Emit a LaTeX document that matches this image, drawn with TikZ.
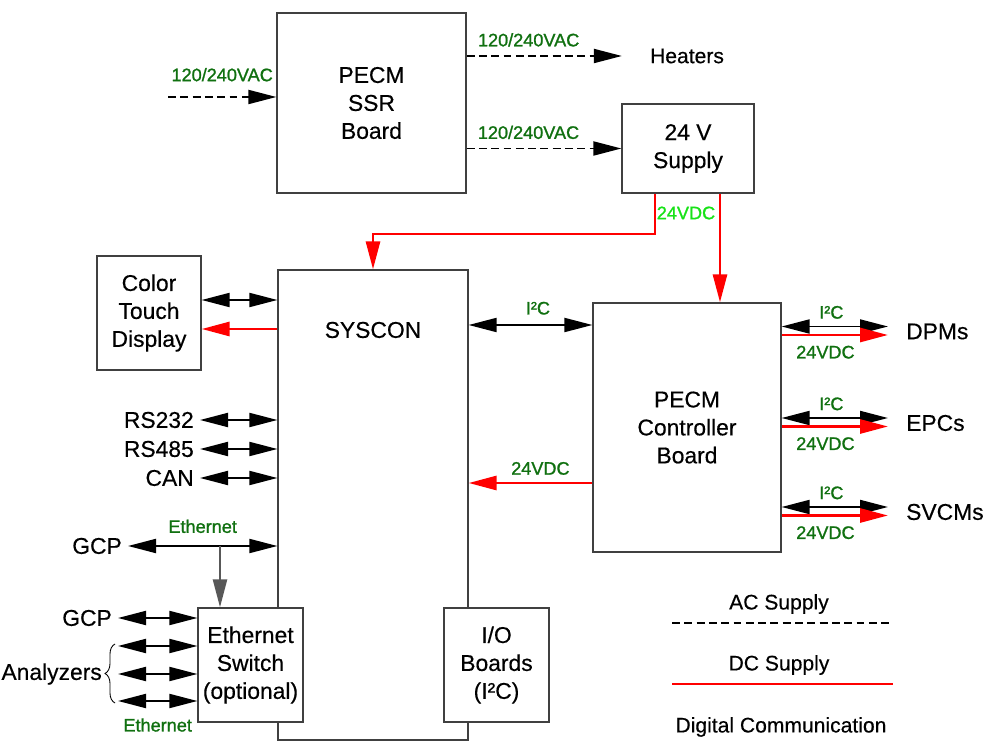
\documentclass[tikz,border=0pt]{standalone}
\usepackage{fontspec}
\setmainfont{Liberation Sans}[FakeBold=0.4]
\newfontfamily\tagfont{Liberation Sans}[FakeBold=1.2]
\usetikzlibrary{arrows.meta,decorations.pathreplacing}

\definecolor{dkgreen}{RGB}{16,112,16}
\definecolor{ltgreen}{RGB}{24,226,24}
\definecolor{boxgray}{RGB}{64,64,64}
\definecolor{tapgray}{RGB}{88,88,88}

\begin{document}
\begin{tikzpicture}[font=\fontsize{13}{15.9}\selectfont,
    >={Triangle[length=0.56cm, width=0.28cm]},
    block/.style={draw=boxgray, line width=0.7pt, fill=white, align=center, inner sep=0pt},
    tag/.style={text=dkgreen, font=\tagfont\fontsize{10.3}{12}\selectfont},
    acline/.style={line width=1.1pt, dash pattern=on 4.5pt off 2.5pt},
    dcline/.style={red, line width=1.6pt},
    bus/.style={line width=1.1pt, <->},
    legtext/.style={font=\fontsize{12}{14}\selectfont}]

        \useasboundingbox (0,0) rectangle (19.74,14.86);

        % --- Blocchi principali ---
        \node[block, minimum width=3.78cm, minimum height=3.6cm] (ssr) at (7.43,12.8) {PECM\\SSR\\Board};
        \node[block, minimum width=2.64cm, minimum height=1.78cm] (supply) at (13.76,11.89) {24 V\\Supply};
        \node[legtext] (heaters) at (13.74,13.74) {Heaters};

        \node[block, minimum width=3.8cm, minimum height=9.4cm] (syscon) at (7.46,4.76) {};
        \node (sysconlbl) at (7.46,8.26) {SYSCON};

        \node[block, minimum width=2.08cm, minimum height=2.28cm] (ctd) at (2.98,8.6) {Color\\Touch\\Display};
        \node[block, minimum width=3.76cm, minimum height=4.98cm] (ctrl) at (13.74,6.31) {PECM\\Controller\\Board};

        % sopra il bordo di SYSCON
        \node[block, minimum width=2.1cm, minimum height=2.28cm] (ethsw) at (5.01,1.56) {Ethernet\\Switch\\(optional)};
        \node[block, minimum width=2.1cm, minimum height=2.28cm] (io) at (9.93,1.56) {I/O\\Boards\\(I²C)};

        % --- Alimentazione AC ---
        \coordinate (acin) at (3.36,12.92);
        \draw[acline, ->] (acin) -- (acin -| ssr.west) node[tag, midway, above=5pt] {120/240VAC};
        \draw[acline, ->, shorten >=0.44cm] (ssr.east |- heaters) -- (heaters.west) node[tag, pos=0.35, above=1.5pt] {120/240VAC};
        \draw[acline, ->] (ssr.east |- supply.west) -- (supply.west) node[tag, pos=0.4, above=1.5pt] {120/240VAC};

        % --- Alimentazione DC ---
        \draw[dcline, ->] ([xshift=-0.66cm]supply.south) |- (syscon.north |- 0,10.18) -- (syscon.north);
        \draw[dcline, ->] ([xshift=0.64cm]supply.south) -- ([xshift=0.64cm]supply.south |- ctrl.north);
        \node[tag, text=ltgreen] (vdc) at (13.72,10.6) {24VDC};

        % --- SYSCON <-> Controller ---
        \draw[bus] (syscon.east |- 0,8.36) -- (ctrl.west |- 0,8.36) node[tag, pos=0.56, above=2pt] {I²C};
        \draw[dcline, ->] (ctrl.west |- 0,5.2) -- (syscon.east |- 0,5.2) node[tag, pos=0.42, above=0.5pt] {24VDC};

        % --- Uscite del Controller ---
        \foreach \nm/\txt/\yb in {dpm/DPMs/8.33, epc/EPCs/6.5, svcm/SVCMs/4.72} {
            \node[anchor=west] (\nm) at (18.0,\yb-0.1) {\txt};
            \draw[bus, shorten >=0.24cm] (ctrl.east |- 0,\yb) -- (\nm.west |- 0,\yb) node[tag, pos=0.42, above=0.5pt] {I²C};
            \draw[dcline, ->, shorten >=0.24cm] (ctrl.east |- 0,\yb-0.17) -- (\nm.west |- 0,\yb-0.17) node[tag, pos=0.37, below=2pt] {24VDC};
        }

        % --- Display ---
        \draw[bus] (ctd.east |- 0,8.86) -- (syscon.west |- 0,8.86);
        \draw[dcline, ->] (syscon.west |- 0,8.28) -- (ctd.east |- 0,8.28);

        % --- Porte seriali ---
        \foreach \nm/\txt/\y in {rsa/RS232/6.46, rsb/RS485/5.88, can/CAN/5.3} {
            \node[anchor=east] (\nm) at (4.0,\y) {\txt};
            \draw[bus] (\nm.east) -- (syscon.west |- \nm.east);
        }

        % --- Ethernet ---
        \node[anchor=east] (gcpa) at (2.56,3.94) {GCP};
        \draw[bus] (gcpa.east) -- (syscon.west |- gcpa.east) node[tag, midway, above=3.5pt] {Ethernet};
        \draw[tapgray, line width=1.4pt, ->] (4.4,0 |- gcpa.east) -- (4.4,0 |- ethsw.north);

        \node[anchor=east] (gcpb) at (2.36,2.5) {GCP};
        \draw[bus] (gcpb.east) -- (ethsw.west |- gcpb.east);

        \coordinate (an1) at (2.36,1.94);
        \coordinate (an2) at (2.36,1.38);
        \coordinate (an3) at (2.36,0.84);
        \draw[bus] (an1) -- (ethsw.west |- an1);
        \draw[bus] (an2) -- (ethsw.west |- an2);
        \draw[bus] (an3) -- (ethsw.west |- an3) node[tag, midway, below=6pt] {Ethernet};

        \draw[decorate, decoration={brace, amplitude=0.2cm}, line width=0.5pt] (2.3,0.8) -- (2.3,1.98);
        \node[anchor=east] (anlz) at (2.16,1.38) {Analyzers};

        % --- Legenda ---
        \node[legtext] (legac) at (15.58,2.78) {AC Supply};
        \coordinate (aca) at (13.44,2.4);
        \coordinate (acb) at (17.86,2.4);
        \draw[acline] (aca) -- (acb);

        \node[legtext] (legdc) at (15.58,1.56) {DC Supply};
        \coordinate (dca) at (13.44,1.18);
        \coordinate (dcb) at (17.86,1.18);
        \draw[dcline] (dca) -- (dcb);

        \node[legtext] (legdig) at (15.62,0.32) {Digital Communication};

\end{tikzpicture}
\end{document}
